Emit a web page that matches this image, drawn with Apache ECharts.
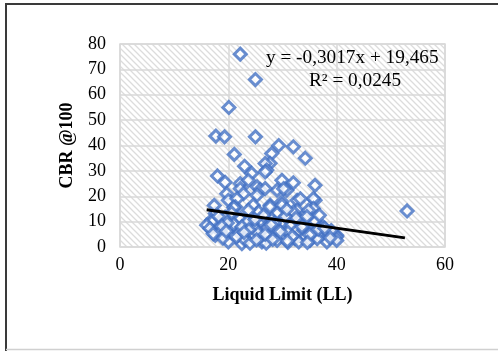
<!DOCTYPE html>
<html>
<head>
<meta charset="utf-8">
<script src="https://cdn.jsdelivr.net/npm/echarts@6/dist/echarts.min.js"></script>
<style>
  html, body { margin: 0; padding: 0; background: #fff; }
  #chart { width: 498px; height: 351px; }
</style>
</head>
<body>
<div id="chart"></div>
<script>
// Liquid limit (LL) of each sample
const liquidLimit = [
  22.2, 25.0, 20.1, 17.7, 19.3, 25.0, 29.3, 32.0, 34.2, 28.0,
  21.1, 27.7, 26.8, 23.0, 27.1, 26.8, 24.3, 18.0, 29.9, 32.0,
  36.0, 19.4, 22.2, 23.7, 25.3, 22.2, 25.9, 29.0, 30.8, 30.2,
  26.8, 19.7, 22.8, 25.3, 32.7, 36.0, 29.9, 35.7, 33.3, 20.0,
  21.6, 27.7, 24.6, 21.3, 27.7, 29.9, 35.7, 32.7, 34.8, 32.0,
  29.0, 25.6, 17.6, 23.7, 17.4, 21.0, 19.4, 22.2, 16.9, 33.3,
  17.0, 16.0, 16.6, 20.0, 24.3, 27.1, 29.0, 31.4, 33.9, 21.9,
  37.0, 38.2, 25.0, 17.6, 24.6, 30.2, 40.0, 40.0, 34.2, 20.0,
  22.5, 26.2, 29.0, 32.3, 35.1, 38.2, 36.4, 40.0, 53.0, 18.5,
  19.0, 21.0, 23.0, 23.5, 26.0, 27.5, 28.0, 30.0, 31.0, 32.5,
  34.0, 35.5, 36.0, 37.5, 39.0, 18.2, 20.6, 26.5, 28.5, 30.5,
  24.0, 27.0, 31.0, 33.0, 25.5, 22.5, 19.8, 30.8, 34.5, 36.8,
  17.2, 18.8, 21.5, 23.8, 25.2, 26.8, 28.2, 29.6, 31.8, 33.6,
  35.0, 36.6, 38.8, 19.6, 22.9, 27.9, 30.9, 34.6, 37.8, 24.9
];
// California bearing ratio at 100 blows
const cbr100 = [
  76.0, 66.0, 55.0, 43.7, 43.4, 43.4, 40.0, 39.5, 35.0, 36.8,
  36.5, 33.0, 32.9, 31.8, 30.3, 29.6, 29.0, 28.0, 26.3, 25.3,
  24.3, 25.5, 25.0, 26.3, 23.7, 23.0, 22.6, 22.4, 22.4, 23.0,
  23.0, 21.0, 21.0, 20.4, 18.4, 18.4, 17.8, 19.1, 19.0, 18.4,
  19.0, 16.5, 16.5, 15.8, 15.8, 16.5, 15.2, 14.5, 14.5, 13.8,
  13.2, 13.8, 13.2, 14.5, 16.4, 15.6, 11.8, 11.2, 10.5, 10.5,
  9.9, 8.6, 7.3, 7.3, 8.6, 7.3, 7.3, 8.6, 6.6, 5.9,
  5.9, 5.9, 7.3, 4.6, 4.6, 4.6, 4.6, 4.0, 4.0, 2.0,
  1.3, 2.0, 2.6, 3.3, 2.6, 2.0, 3.3, 2.6, 14.2, 6.0,
  3.5, 9.0, 3.0, 10.0, 10.5, 4.5, 11.0, 10.0, 5.8, 11.5,
  8.5, 5.5, 10.0, 8.0, 6.5, 12.0, 13.5, 12.5, 9.5, 12.0,
  1.5, 1.5, 1.8, 2.0, 5.5, 8.0, 9.5, 14.8, 12.0, 12.5,
  5.2, 8.2, 4.0, 6.8, 2.8, 5.0, 3.0, 6.0, 4.2, 8.0,
  4.8, 7.0, 3.6, 6.2, 5.8, 8.8, 2.4, 1.8, 7.4, 10.8
];
// Linear fit y = slope * x + intercept, drawn over the sampled LL range
const fitSlope = -0.3017;
const fitIntercept = 19.465;
const fitRange = [16.0, 52.6];
const xTicks = [0, 20, 40, 60];
const yTicks = [0, 10, 20, 30, 40, 50, 60, 70, 80];

const points = liquidLimit.map((x, i) => [x, cbr100[i]]);
const fitLine = fitRange.map(x => [x, fitSlope * x + fitIntercept]);

// diagonal hatch used behind the plot
function hatchPattern() {
  const c = document.createElement('canvas');
  c.width = 6; c.height = 6;
  const g = c.getContext('2d');
  g.fillStyle = '#ffffff';
  g.fillRect(0, 0, 6, 6);
  g.strokeStyle = '#dcdcdc';
  g.lineWidth = 1.3;
  g.beginPath();
  g.moveTo(-1, -1); g.lineTo(7, 7);
  g.moveTo(-7, -1); g.lineTo(1, 7);
  g.moveTo(5, -1); g.lineTo(13, 7);
  g.stroke();
  return { image: c, repeat: 'repeat' };
}

const serif = '"Liberation Serif", "Times New Roman", serif';
const chart = echarts.init(document.getElementById('chart'), null, { renderer: 'canvas' });

chart.setOption({
  animation: false,
  backgroundColor: '#ffffff',
  grid: {
    left: 120, top: 44, width: 325, height: 203,
    show: true,
    backgroundColor: hatchPattern(),
    borderColor: '#d9d9d9',
    borderWidth: 1.5
  },
  xAxis: {
    type: 'value',
    min: xTicks[0], max: xTicks[xTicks.length - 1], interval: 20,
    name: 'Liquid Limit (LL)',
    nameLocation: 'middle',
    nameGap: 39,
    nameTextStyle: { fontFamily: serif, fontSize: 18, fontWeight: 'bold', color: '#000' },
    axisLine: { show: false },
    axisTick: { show: false },
    axisLabel: { fontFamily: serif, fontSize: 18, color: '#000', margin: 9 },
    splitLine: { show: true, lineStyle: { color: '#d9d9d9', width: 1.5 } }
  },
  yAxis: {
    type: 'value',
    min: yTicks[0], max: yTicks[yTicks.length - 1], interval: 10,
    name: 'CBR @100',
    nameLocation: 'middle',
    nameRotate: 90,
    nameGap: 44,
    nameMoveOverlap: false,
    nameTextStyle: { fontFamily: serif, fontSize: 18, fontWeight: 'bold', color: '#000' },
    axisLine: { show: false },
    axisTick: { show: false },
    axisLabel: { fontFamily: serif, fontSize: 18, color: '#000', margin: 14 },
    splitLine: { show: true, lineStyle: { color: '#d9d9d9', width: 1.5 } }
  },
  series: [
    {
      type: 'scatter',
      data: points,
      symbol: 'diamond',
      symbolSize: 12,
      itemStyle: { color: '#ffffff', borderColor: '#4472c4', borderWidth: 3 },
      z: 3
    },
    {
      type: 'line',
      data: fitLine,
      showSymbol: false,
      symbol: 'none',
      lineStyle: { color: '#000000', width: 3 },
      z: 4
    }
  ],
  graphic: [
    { type: 'line', shape: { x1: 6, y1: 3, x2: 6, y2: 351 }, style: { stroke: '#3a3a3a', lineWidth: 2 } },
    { type: 'line', shape: { x1: 5, y1: 4, x2: 498, y2: 4 }, style: { stroke: '#3a3a3a', lineWidth: 2 } },
    { type: 'line', shape: { x1: 6, y1: 349.5, x2: 498, y2: 349.5 }, style: { stroke: '#d0d0d0', lineWidth: 1.5 } },
    {
      type: 'text', x: 266, y: 49, z: 10, scaleX: 1.07,
      style: { text: 'y = -0,3017x + 19,465', font: '18px ' + serif, fill: '#000' }
    },
    {
      type: 'text', x: 309, y: 72, z: 10, scaleX: 1.07,
      style: { text: 'R² = 0,0245', font: '18px ' + serif, fill: '#000' }
    }
  ]
});
</script>
</body>
</html>
